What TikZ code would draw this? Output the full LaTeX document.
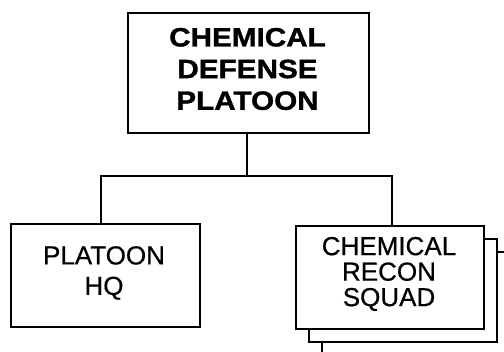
\documentclass[tikz,border=0pt]{standalone}
\usepackage{fontspec}
\setmainfont{Liberation Sans}
\newfontfamily\widefont[FakeStretch=1.12,FakeBold=1.2]{Liberation Sans Bold}
\newfontfamily\regfont[FakeBold=0.6]{Liberation Sans}
\tikzset{
  unitbox/.style={draw=black, line width=2.6pt, fill=white, inner sep=0pt, minimum width=#1},
  label text/.style={align=center, inner sep=0pt, text=black},
  conn/.style={draw=black, line width=2.3pt}
}
\begin{document}
\begin{tikzpicture}[x=1pt, y=-1pt]
\useasboundingbox (0,0) rectangle (504,352);
\clip (0,0) rectangle (504,352);
\fill[white] (0,0) rectangle (504,352);
% top box
\node[unitbox=241pt, minimum height=120pt] (top) at (248.5,73) {};
\node[label text, font=\widefont\fontsize{26.5}{31.7}\selectfont] (toptxt) at (247.5,69) {CHEMICAL\\DEFENSE\\PLATOON};
% left box
\node[unitbox=189pt, minimum height=103pt] (hq) at (105.5,275.5) {};
\node[label text, font=\regfont\fontsize{26}{30.5}\selectfont] (hqtxt) at (104,273) {PLATOON\\HQ};
% stacked right boxes
\node[unitbox=188pt, minimum height=103pt] (sq3) at (416,303.5) {};
\node[unitbox=188pt, minimum height=103pt] (sq2) at (403,290.5) {};
\node[unitbox=188pt, minimum height=103pt] (sq) at (390,277.5) {};
\node[label text, font=\regfont\fontsize{26}{25.5}\selectfont] (sqtxt) at (389,274) {CHEMICAL\\RECON\\SQUAD};
% connectors
\coordinate (j) at (247,176);
\draw[conn] (top.south -| j) -- (j);
\draw[conn] (hq.north -| 101,0) |- (j) -| (sq.north -| 392,0);
\end{tikzpicture}
\end{document}
